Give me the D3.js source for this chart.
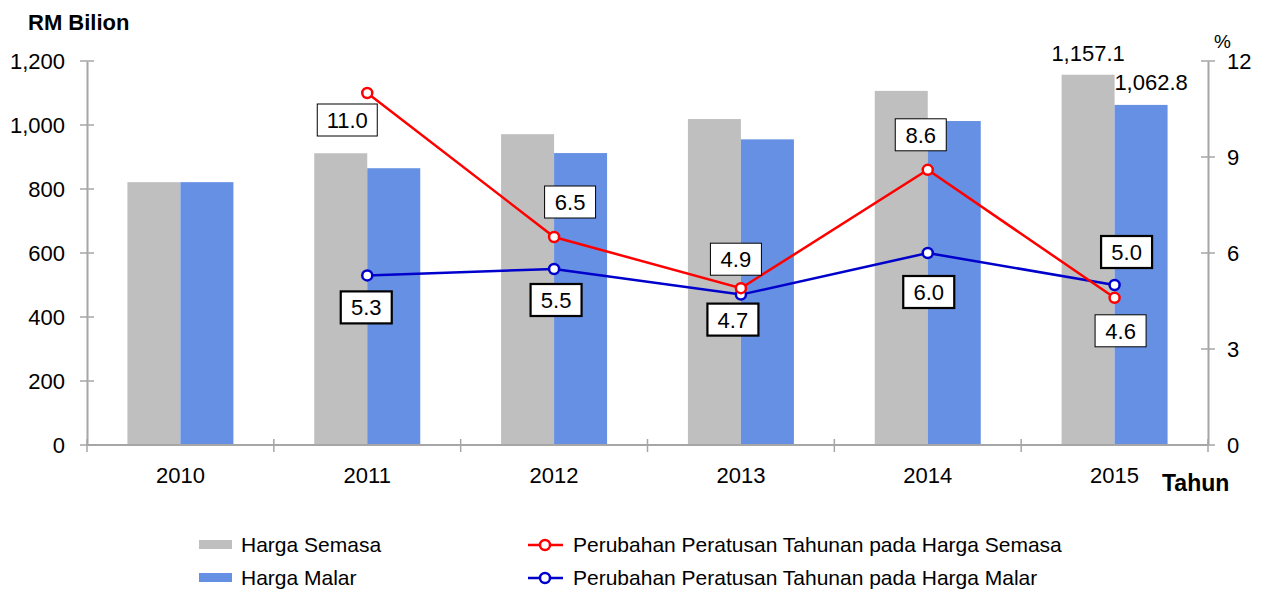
<!DOCTYPE html>
<html>
<head>
<meta charset="utf-8">
<script src="https://cdn.jsdelivr.net/npm/d3@7"></script>
<style>
  body { margin: 0; background: white; }
  text { font-family: "Liberation Sans", Arial, sans-serif; }
</style>
</head>
<body>
<div id="container"></div>
<script>
let w = 1264;
let h = 592;

let years = ["2010", "2011", "2012", "2013", "2014", "2015"];
let hargaSemasa = [821.4, 911.7, 971.3, 1018.6, 1106.6, 1157.1];
let hargaMalar = [821.4, 864.9, 912.3, 955.1, 1012.4, 1062.8];
let pctSemasa = [null, 11.0, 6.5, 4.9, 8.6, 4.6];
let pctMalar = [null, 5.3, 5.5, 4.7, 6.0, 5.0];
let leftTicks = [0, 200, 400, 600, 800, 1000, 1200];
let rightTicks = [0, 3, 6, 9, 12];

// where each percentage box sits relative to its point (layout only)
let offSemasa = [null, [-20, 27], [16, -35], [-5, -29], [-7, -35], [6, 33]];
let offMalar = [null, [-1, 32], [2, 31], [-8, 25], [1, 39], [12, -33]];

let grey = "#BFBFBF";
let blueBar = "#6690E3";
let red = "#FF0000";
let navy = "#0000CC";
let axisCol = "#A6A6A6";

let plotLeft = 87, plotRight = 1208, plotTop = 61, plotBottom = 445;

let viz = d3.select("#container")
  .append("svg")
  .attr("width", w)
  .attr("height", h)
  .style("background-color", "white");

let x = d3.scaleBand().domain(years).range([plotLeft, plotRight]);
let y = d3.scaleLinear().domain([0, 1200]).range([plotBottom, plotTop]);
let y2 = d3.scaleLinear().domain([0, 12]).range([plotBottom, plotTop]);
let barW = 53;

// bars
let barGroup = viz.append("g");
barGroup.selectAll(".semasa")
  .data(years)
  .enter()
  .append("rect")
  .attr("x", d => x(d) + x.bandwidth() / 2 - barW)
  .attr("y", (d, i) => y(hargaSemasa[i]))
  .attr("width", barW)
  .attr("height", (d, i) => plotBottom - y(hargaSemasa[i]))
  .attr("fill", grey);

barGroup.selectAll(".malar")
  .data(years)
  .enter()
  .append("rect")
  .attr("x", d => x(d) + x.bandwidth() / 2)
  .attr("y", (d, i) => y(hargaMalar[i]))
  .attr("width", barW)
  .attr("height", (d, i) => plotBottom - y(hargaMalar[i]))
  .attr("fill", blueBar);

// value labels on the 2015 bars
let last = years.length - 1;
viz.append("text")
  .attr("x", x(years[last]) + x.bandwidth() / 2 - barW / 2)
  .attr("y", y(hargaSemasa[last]) - 14)
  .attr("text-anchor", "middle")
  .attr("font-size", 22)
  .text(d3.format(",.1f")(hargaSemasa[last]));
viz.append("text")
  .attr("x", x(years[last]) + x.bandwidth() / 2 + barW / 2 + 10)
  .attr("y", y(hargaMalar[last]) - 15)
  .attr("text-anchor", "middle")
  .attr("font-size", 22)
  .text(d3.format(",.1f")(hargaMalar[last]));

// axes
let leftAxis = viz.append("g")
  .attr("transform", "translate(" + plotLeft + ",0)")
  .call(d3.axisLeft(y).tickValues(leftTicks).tickFormat(d3.format(",")).tickSize(0).tickPadding(22));
let rightAxis = viz.append("g")
  .attr("transform", "translate(" + plotRight + ",0)")
  .call(d3.axisRight(y2).tickValues(rightTicks).tickSize(0).tickPadding(19));
let bottomAxis = viz.append("g")
  .attr("transform", "translate(0," + plotBottom + ")")
  .call(d3.axisBottom(x).tickSize(0).tickPadding(22));

[leftAxis, rightAxis, bottomAxis].forEach(a => {
  a.select(".domain").attr("stroke", axisCol).attr("stroke-width", 2);
  a.selectAll("text").attr("font-size", 22).attr("fill", "black")
    .attr("font-family", "'Liberation Sans', Arial, sans-serif");
});
bottomAxis.select(".domain").attr("d", "M" + plotLeft + ",0H" + plotRight);

// crossing tick marks
leftTicks.forEach(t => {
  viz.append("line").attr("x1", plotLeft - 7).attr("x2", plotLeft + 7)
    .attr("y1", y(t)).attr("y2", y(t)).attr("stroke", axisCol).attr("stroke-width", 1.5);
});
rightTicks.forEach(t => {
  viz.append("line").attr("x1", plotRight - 7).attr("x2", plotRight + 7)
    .attr("y1", y2(t)).attr("y2", y2(t)).attr("stroke", axisCol).attr("stroke-width", 1.5);
});
years.concat(["end"]).forEach((d, i) => {
  let xx = plotLeft + i * x.bandwidth();
  viz.append("line").attr("x1", xx).attr("x2", xx)
    .attr("y1", plotBottom - 6).attr("y2", plotBottom + 7).attr("stroke", axisCol).attr("stroke-width", 1.5);
});

// lines
function drawLine(vals, col) {
  let pts = years.map((d, i) => [d, vals[i]]).filter(p => p[1] != null);
  let line = d3.line()
    .x(p => x(p[0]) + x.bandwidth() / 2)
    .y(p => y2(p[1]));
  viz.append("path")
    .datum(pts)
    .attr("d", line)
    .attr("fill", "none")
    .attr("stroke", col)
    .attr("stroke-width", 2.5);
  viz.selectAll(null)
    .data(pts)
    .enter()
    .append("circle")
    .attr("cx", p => x(p[0]) + x.bandwidth() / 2)
    .attr("cy", p => y2(p[1]))
    .attr("r", 5)
    .attr("fill", "white")
    .attr("stroke", col)
    .attr("stroke-width", 2.5);
}
drawLine(pctMalar, navy);
drawLine(pctSemasa, red);

// percentage boxes
function drawBoxes(vals, offs, border) {
  years.forEach((d, i) => {
    if (vals[i] == null) return;
    let cx = x(d) + x.bandwidth() / 2 + offs[i][0];
    let cy = y2(vals[i]) + offs[i][1];
    let label = d3.format(".1f")(vals[i]);
    let bw = label.length > 3 ? 60 : 51;
    viz.append("rect")
      .attr("x", cx - bw / 2)
      .attr("y", cy - 16)
      .attr("width", bw)
      .attr("height", 32)
      .attr("fill", "white")
      .attr("stroke", "black")
      .attr("stroke-width", border);
    viz.append("text")
      .attr("x", cx)
      .attr("y", cy + 8)
      .attr("text-anchor", "middle")
      .attr("font-size", 22)
      .text(label);
  });
}
drawBoxes(pctSemasa, offSemasa, 1);
drawBoxes(pctMalar, offMalar, 2.2);

// titles
viz.append("text").attr("x", 28).attr("y", 30)
  .attr("font-size", 22).attr("font-weight", "bold").text("RM Bilion");
viz.append("text").attr("x", 1214).attr("y", 48)
  .attr("font-size", 19).text("%");
viz.append("text").attr("x", 1162).attr("y", 491)
  .attr("font-size", 23).attr("font-weight", "bold").text("Tahun");

// legend
let legend = viz.append("g").attr("class", "legend");
let barItems = [["Harga Semasa", grey], ["Harga Malar", blueBar]];
let lineItems = [["Perubahan Peratusan Tahunan pada Harga Semasa", red],
                 ["Perubahan Peratusan Tahunan pada Harga Malar", navy]];
let rowY = [545, 578];

barItems.forEach((it, i) => {
  legend.append("rect").attr("x", 199).attr("y", rowY[i] - 5)
    .attr("width", 33).attr("height", 9).attr("fill", it[1]);
  legend.append("text").attr("x", 241).attr("y", rowY[i] + 7)
    .attr("font-size", 21).text(it[0]);
});
lineItems.forEach((it, i) => {
  legend.append("line").attr("x1", 528).attr("x2", 563)
    .attr("y1", rowY[i]).attr("y2", rowY[i])
    .attr("stroke", it[1]).attr("stroke-width", 2.5);
  legend.append("circle").attr("cx", 545).attr("cy", rowY[i]).attr("r", 5)
    .attr("fill", "white").attr("stroke", it[1]).attr("stroke-width", 2.5);
  legend.append("text").attr("x", 573).attr("y", rowY[i] + 7)
    .attr("font-size", 21).text(it[0]);
});
</script>
</body>
</html>
